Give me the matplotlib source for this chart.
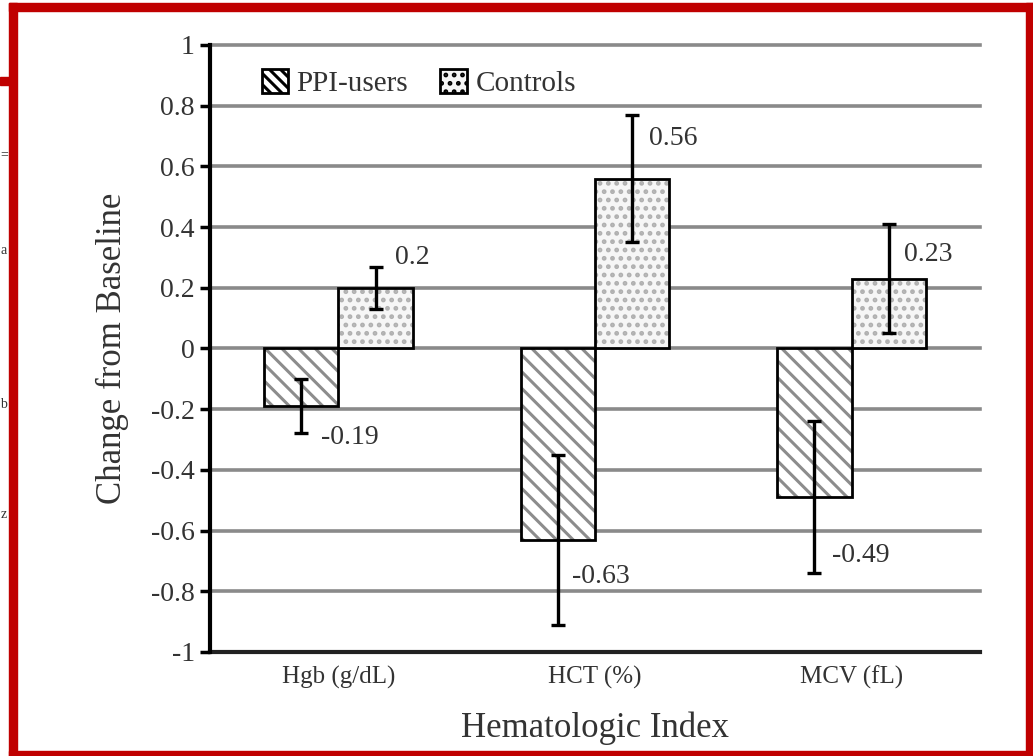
import numpy as np
import matplotlib
matplotlib.use("Agg")
import matplotlib.pyplot as plt
from matplotlib.patches import Rectangle, Patch

# data
categories = ["Hgb (g/dL)", "HCT (%)", "MCV (fL)"]
ppi_mean = [-0.19, -0.63, -0.49]
ppi_err = [0.09, 0.28, 0.25]
ctrl_mean = [0.20, 0.56, 0.23]
ctrl_err = [0.07, 0.21, 0.18]
ppi_labels = ["-0.19", "-0.63", "-0.49"]
ctrl_labels = ["0.2", "0.56", "0.23"]
yticks = [-1, -0.8, -0.6, -0.4, -0.2, 0, 0.2, 0.4, 0.6, 0.8, 1]
ytick_labels = ["-1", "-0.8", "-0.6", "-0.4", "-0.2", "0", "0.2", "0.4", "0.6", "0.8", "1"]

# label offsets in pixels (dx, dy) relative to bar end
ppi_off = [(20, -31), (14, -37), (18, -58)]
ctrl_off = [(19, 30), (17, 40), (15, 24)]

plt.rcParams['font.family'] = ['Liberation Serif', 'DejaVu Serif']
plt.rcParams['hatch.linewidth'] = 2.2
text_col = '#333333'

fig = plt.figure(figsize=(10.33, 7.56), dpi=100)
ax = fig.add_axes([0.2033, 0.1376, 0.7454, 0.8029])

x = np.arange(len(categories))
w = 0.29
xp = x - w / 2
xc = x + w / 2

# grid lines
ax.set_ylim(-1, 1)
ax.set_xlim(-0.5, 2.5)
for t in yticks:
    ax.axhline(t, color='#8a8a8a', lw=2.6, zorder=0, clip_on=False)

# hatched fills, then black outlines
ax.bar(xp, ppi_mean, w, color='white', edgecolor='#8c8c8c', hatch='\\\\', lw=0, zorder=2)
ax.bar(xp, ppi_mean, w, fill=False, edgecolor='black', lw=2, zorder=3)
ax.bar(xc, ctrl_mean, w, color='#f6f6f6', edgecolor='#b0b0b0', hatch='..', lw=0, zorder=2)
ax.bar(xc, ctrl_mean, w, fill=False, edgecolor='black', lw=2, zorder=3)

ax.errorbar(xp, ppi_mean, yerr=ppi_err, fmt='none', ecolor='black', elinewidth=2.4,
            capsize=5, capthick=2.4, zorder=4)
ax.errorbar(xc, ctrl_mean, yerr=ctrl_err, fmt='none', ecolor='black', elinewidth=2.4,
            capsize=5, capthick=2.4, zorder=4)

for i in range(len(categories)):
    ax.annotate(ppi_labels[i], (xp[i], ppi_mean[i]), xytext=ppi_off[i],
                textcoords='offset pixels', ha='left', va='center',
                fontsize=20, color=text_col, zorder=5)
    ax.annotate(ctrl_labels[i], (xc[i], ctrl_mean[i]), xytext=ctrl_off[i],
                textcoords='offset pixels', ha='left', va='center',
                fontsize=20, color=text_col, zorder=5)

ax.set_yticks(yticks)
ax.set_yticklabels(ytick_labels, fontsize=20, color=text_col)
ax.set_xticks(x)
ax.set_xticklabels(categories, fontsize=18, color=text_col)
ax.tick_params(axis='x', length=0, pad=10)
ax.tick_params(axis='y', direction='out', length=7, width=2.5, color='black', pad=4)

for s in ['top', 'right']:
    ax.spines[s].set_visible(False)
ax.spines['left'].set_linewidth(3)
ax.spines['left'].set_color('black')
ax.spines['bottom'].set_linewidth(3)
ax.spines['bottom'].set_color('#222222')
ax.spines['bottom'].set_zorder(1)

ax.set_xlabel("Hematologic Index", fontsize=25, color=text_col, labelpad=16)
ax.set_ylabel("Change from Baseline", fontsize=25, color=text_col, labelpad=16)

handles = [Patch(facecolor='white', edgecolor='#8c8c8c', hatch='\\\\\\', lw=0),
           Patch(facecolor='#f6f6f6', edgecolor='#b0b0b0', hatch='..', lw=0)]
leg = ax.legend(handles, ["PPI-users", "Controls"], loc='center left',
                bbox_to_anchor=(0.033, 0.937), ncol=2, frameon=False, fontsize=21,
                handlelength=0.9, handleheight=0.9, handletextpad=0.3,
                columnspacing=1.1, labelcolor=text_col)
for p in leg.get_patches():
    p.set_edgecolor('black')
    p.set_linewidth(2)

# red frame around the figure
red = '#c00000'
fig.patches.append(Rectangle((9 / 1033, 0), 8 / 1033, 1 - 3 / 756, transform=fig.transFigure,
                             color=red, zorder=10))
fig.patches.append(Rectangle((9 / 1033, 1 - 11 / 756), 1 - 9 / 1033, 8 / 756,
                             transform=fig.transFigure, color=red, zorder=10))
fig.patches.append(Rectangle((1 - 7 / 1033, 0), 7 / 1033, 1 - 3 / 756,
                             transform=fig.transFigure, color=red, zorder=10))
fig.patches.append(Rectangle((9 / 1033, 0), 1, 5 / 756,
                             transform=fig.transFigure, color=red, zorder=10))
fig.patches.append(Rectangle((0, 1 - 85 / 756), 10 / 1033, 8 / 756,
                             transform=fig.transFigure, color=red, zorder=10))

# bits of the scanned page peeking in at the left
for yy, s in [(155, "="), (250, "a"), (405, "b"), (515, "z")]:
    fig.text(0.5 / 1033, 1 - yy / 756, s, fontsize=10, color='#333333', va='center', ha='left')

fig.savefig("out.png", dpi=100)
